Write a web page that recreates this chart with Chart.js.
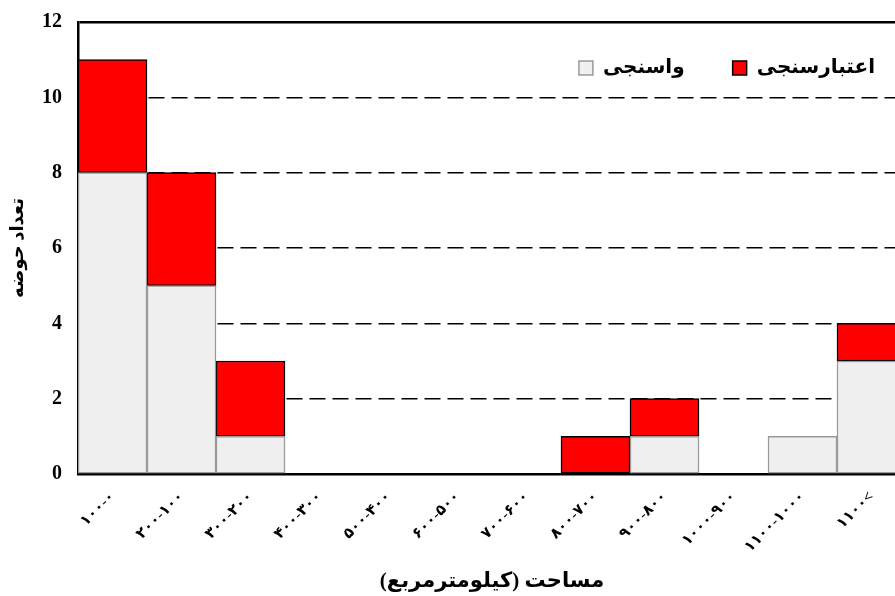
<!DOCTYPE html>
<html>
<head>
<meta charset="utf-8">
<script src="https://cdn.jsdelivr.net/npm/chart.js@4/dist/chart.umd.min.js"></script>
<style>
  html, body { margin: 0; padding: 0; overflow: hidden; background: #fff; }
  #wrap { width: 912px; height: 596px; position: relative; }
</style>
</head>
<body>
<div id="wrap"><canvas id="myChart"></canvas></div>
<script>
// Area classes (km2)
const categories = [
  "۱۰۰-۰", "۲۰۰-۱۰۰", "۳۰۰-۲۰۰", "۴۰۰-۳۰۰", "۵۰۰-۴۰۰", "۶۰۰-۵۰۰",
  "۷۰۰-۶۰۰", "۸۰۰-۷۰۰", "۹۰۰-۸۰۰", "۱۰۰۰-۹۰۰", "۱۱۰۰-۱۰۰۰", "۱۱۰۰<"
];
// Number of basins per class
const calibration = [8, 5, 1, 0, 0, 0, 0, 0, 1, 0, 1, 3];   // واسنجی
const validation = [3, 3, 2, 0, 0, 0, 0, 1, 1, 0, 0, 1];    // اعتبارسنجی
const yTicks = [0, 2, 4, 6, 8, 10, 12];

const faFont = "'Liberation Serif', 'DejaVu Sans', serif";

// legend drawn inside the plot, top right (boxes left of the text)
const innerLegend = {
  id: "innerLegend",
  afterDraw(chart) {
    const c = chart.ctx;
    const area = chart.chartArea;
    const sets = chart.data.datasets;
    c.save();
    c.font = "bold 20px " + faFont;
    c.textBaseline = "middle";
    c.textAlign = "left";
    const y = area.top + 46;
    let x = area.right - 31;
    // right to left: last dataset sits right-most
    for (let i = sets.length - 1; i >= 0; i--) {
      const w = c.measureText(sets[i].label).width;
      x -= w;
      c.fillStyle = "#000";
      c.fillText(sets[i].label, x, y);
      x -= 10 + 14;
      c.fillStyle = sets[i].backgroundColor;
      c.fillRect(x, y - 7, 14, 14);
      c.lineWidth = 1.5;
      c.strokeStyle = sets[i].borderColor;
      c.strokeRect(x, y - 7, 14, 14);
      x -= 48;
    }
    c.restore();
  }
};

const ctx = document.getElementById("myChart").getContext("2d");
new Chart(ctx, {
  type: "bar",
  data: {
    labels: categories,
    datasets: [
      {
        label: "واسنجی",
        data: calibration,
        backgroundColor: "#f0f0f0",
        borderColor: "#9a9a9a",
        borderWidth: 1.5,
        borderSkipped: false,
        categoryPercentage: 1,
        barPercentage: 1
      },
      {
        label: "اعتبارسنجی",
        data: validation,
        backgroundColor: "#ff0000",
        borderColor: "#000000",
        borderWidth: 1.5,
        borderSkipped: false,
        categoryPercentage: 1,
        barPercentage: 1
      }
    ]
  },
  options: {
    responsive: true,
    maintainAspectRatio: false,
    animation: false,
    layout: { padding: { top: 22, right: 6 } },
    plugins: {
      tooltip: { enabled: false },
      legend: { display: false }
    },
    scales: {
      x: {
        stacked: true,
        grid: { display: false },
        border: { display: true, color: "#000", width: 2.5 },
        ticks: {
          color: "#000",
          minRotation: 45,
          maxRotation: 45,
          padding: 6,
          font: { family: faFont, size: 15, weight: "bold" }
        },
        title: {
          display: true,
          text: "مساحت (کیلومترمربع)",
          color: "#000",
          padding: { top: 4, bottom: 2 },
          font: { family: faFont, size: 21, weight: "bold" }
        },
        afterFit: (scale) => { scale.height = 122; }
      },
      y: {
        stacked: true,
        min: 0,
        max: 12,
        afterBuildTicks: (scale) => { scale.ticks = yTicks.map((v) => ({ value: v })); },
        grid: {
          drawTicks: false,
          color: (c) => (c.tick && c.tick.value === 0 ? "rgba(0,0,0,0)" : "#000"),
          lineWidth: (c) => (c.tick && c.tick.value === 12 ? 2.5 : 1.6)
        },
        border: {
          display: true,
          color: "#000",
          width: 2.5,
          dash: (c) => (c.tick && c.tick.value === 12 ? [] : [16, 7])
        },
        ticks: {
          color: "#000",
          padding: 16,
          font: { family: "'Liberation Serif', serif", size: 20, weight: "bold" }
        },
        title: {
          display: true,
          text: "تعداد حوضه",
          color: "#000",
          padding: { top: 8, bottom: 0 },
          font: { family: faFont, size: 18, weight: "bold" }
        },
        afterFit: (scale) => {
          scale.width = 78;
          scale.paddingTop = 0;
          scale.paddingBottom = 0;
        }
      }
    }
  },
  plugins: [innerLegend]
});
</script>
</body>
</html>
